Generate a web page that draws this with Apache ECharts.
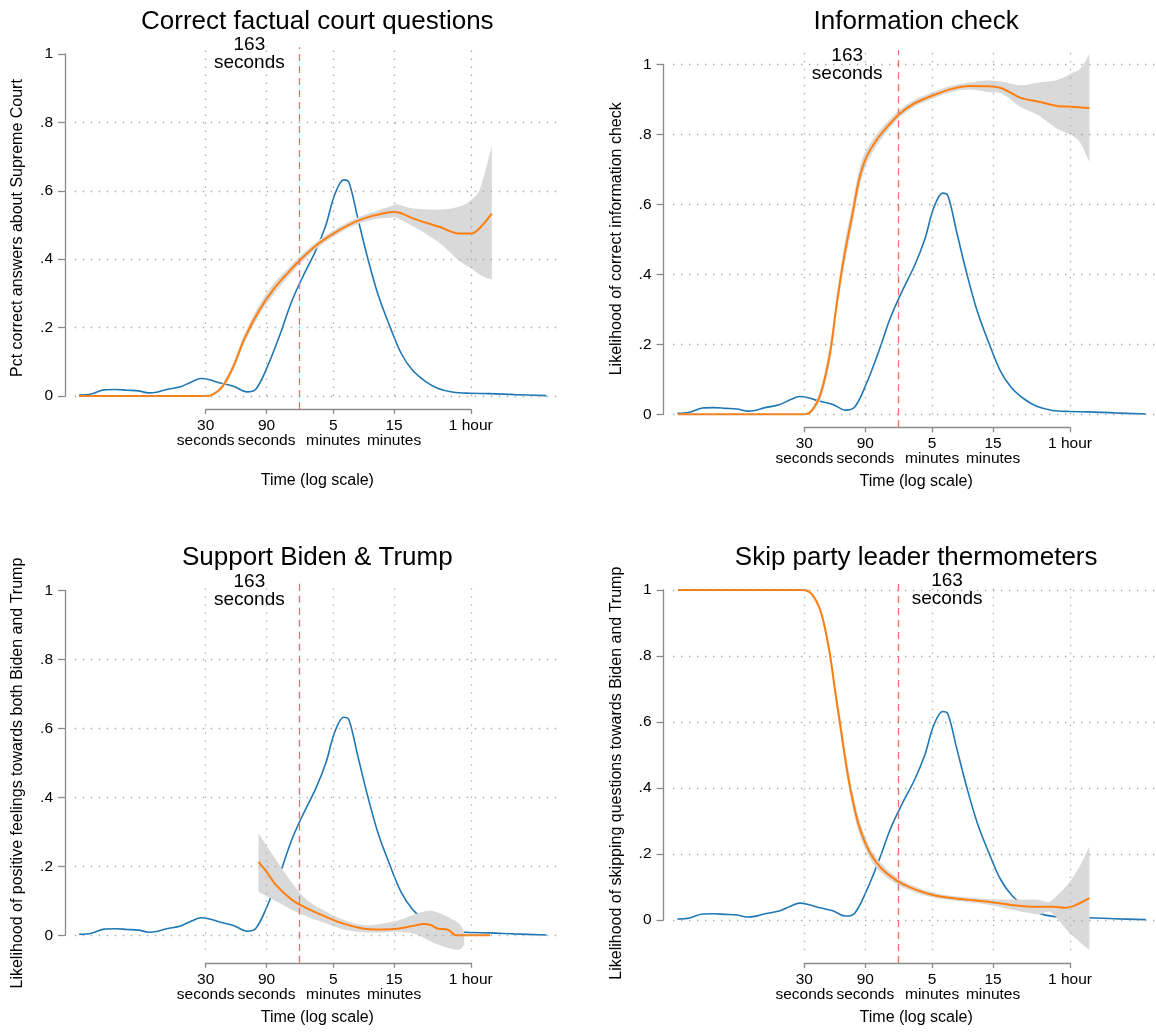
<!DOCTYPE html>
<html><head><meta charset="utf-8">
<script src="https://cdn.jsdelivr.net/npm/echarts@6/dist/echarts.min.js"></script>
<style>html,body{margin:0;padding:0;background:#fff}#c{width:1156px;height:1032px}</style>
</head><body><div id="c"></div>
<script>
// ---------------- DATA (time is stored as log10 of seconds) ----------------
const tickSeconds = [30, 90, 300, 900, 3600];
const tickLabels = ['30\nseconds', '90\nseconds', '5\nminutes', '15\nminutes', '1 hour'];
const yTickValues = [0, 0.2, 0.4, 0.6, 0.8, 1];
const cutoffSeconds = 163;
const noteSeconds = [66, 65, 66, 393];
const panelTitles = ['Correct factual court questions', 'Information check', 'Support Biden & Trump', 'Skip party leader thermometers'];
const yTitles = ['Pct correct answers about Supreme Court', 'Likelihood of correct information check',
  'Likelihood of positive feelings towards both Biden and Trump', 'Likelihood of skipping questions towards Biden and Trump'];
const xTitle = 'Time (log scale)';

// Density of completion time (blue), same in every panel
const densLogT = [0.484,0.58,0.68,0.77,0.86,0.95,1.03,1.09,1.17,1.28,1.37,1.44,1.50,1.60,1.70,1.80,1.87,1.96,2.06,2.15,2.24,2.34,2.42,2.49,2.56,2.60,2.67,2.75,2.83,2.92,3.01,3.10,3.20,3.30,3.42,3.55,3.70,3.90,4.15];
const densY = [0.003,0.006,0.018,0.019,0.017,0.015,0.009,0.011,0.019,0.027,0.042,0.051,0.048,0.037,0.028,0.012,0.020,0.085,0.180,0.275,0.350,0.425,0.500,0.590,0.632,0.625,0.520,0.400,0.295,0.205,0.125,0.075,0.043,0.022,0.011,0.008,0.007,0.004,0.001];

// Panel 1: Correct factual court questions
const courtLogT = [0.484,1.477,1.535,1.607,1.694,1.781,1.897,2.013,2.129,2.244,2.36,2.476,2.592,2.708,2.824,2.939,2.983,3.113,3.316,3.46,3.562,3.634,3.721];
const courtFit = [0,0,0.005,0.027,0.086,0.168,0.251,0.314,0.363,0.407,0.445,0.474,0.499,0.518,0.530,0.538,0.537,0.518,0.494,0.475,0.475,0.494,0.533];
const courtCiLogT = [1.477,1.535,1.607,1.694,1.781,1.897,2.013,2.129,2.244,2.36,2.476,2.592,2.708,2.824,2.939,2.983,3.113,3.316,3.46,3.562,3.634,3.721];
const courtCiLo = [0,0.003,0.020,0.075,0.155,0.236,0.298,0.350,0.396,0.435,0.465,0.490,0.508,0.518,0.522,0.520,0.494,0.446,0.397,0.373,0.353,0.340];
const courtCiHi = [0,0.007,0.034,0.097,0.181,0.266,0.330,0.376,0.418,0.455,0.483,0.508,0.528,0.542,0.556,0.560,0.548,0.545,0.553,0.574,0.611,0.732];

// Panel 2: Information check
const infoLogT = [0.488,1.471,1.534,1.606,1.678,1.735,1.793,1.85,1.907,1.965,2.051,2.137,2.223,2.337,2.481,2.624,2.768,2.911,3.026,3.169,3.312,3.456,3.571,3.708];
const infoFit = [0,0,0.010,0.060,0.174,0.326,0.459,0.564,0.672,0.736,0.788,0.826,0.859,0.888,0.911,0.929,0.938,0.937,0.931,0.904,0.893,0.881,0.879,0.875];
const infoCiLogT = [1.471,1.534,1.606,1.678,1.735,1.793,1.85,1.907,1.965,2.051,2.137,2.223,2.337,2.481,2.624,2.768,2.911,3.026,3.169,3.312,3.456,3.571,3.64,3.708];
const infoCiLo = [0,0.005,0.045,0.150,0.300,0.430,0.535,0.645,0.715,0.772,0.813,0.848,0.878,0.902,0.920,0.928,0.921,0.916,0.878,0.854,0.816,0.797,0.774,0.721];
const infoCiHi = [0,0.015,0.075,0.198,0.352,0.488,0.593,0.700,0.757,0.804,0.839,0.870,0.898,0.920,0.938,0.948,0.954,0.950,0.940,0.948,0.955,0.975,0.988,1.030];

// Panel 3: Support Biden & Trump
const supportLogT = [1.891,1.955,2.027,2.157,2.273,2.418,2.563,2.708,2.853,2.997,3.113,3.186,3.243,3.301,3.374,3.44,3.707];
const supportFit = [0.213,0.184,0.146,0.102,0.078,0.054,0.033,0.020,0.017,0.020,0.028,0.033,0.030,0.019,0.017,0,0];
const supportCiLogT = [1.891,2.013,2.157,2.273,2.418,2.563,2.708,2.853,2.997,3.142,3.243,3.345,3.461,3.504];
const supportCiLo = [0.126,0.102,0.073,0.054,0.035,0.017,0.009,0.008,0.010,0.001,-0.018,-0.033,-0.042,-0.028];
const supportCiHi = [0.295,0.228,0.151,0.102,0.069,0.044,0.030,0.033,0.044,0.064,0.071,0.059,0.035,0.011];

// Panel 4: Skip party leader thermometers
const skipLogT = [0.488,1.463,1.534,1.606,1.672,1.721,1.764,1.807,1.85,1.907,1.993,2.079,2.194,2.309,2.452,2.596,2.768,2.94,3.112,3.284,3.427,3.513,3.6,3.708];
const skipFit = [1,1,0.988,0.934,0.818,0.687,0.576,0.465,0.374,0.283,0.202,0.157,0.121,0.098,0.079,0.068,0.061,0.054,0.045,0.040,0.040,0.037,0.045,0.066];
const skipCiLogT = [1.534,1.606,1.672,1.721,1.764,1.807,1.85,1.907,1.993,2.079,2.194,2.309,2.452,2.596,2.768,2.94,3.112,3.284,3.341,3.398,3.456,3.542,3.628,3.708];
const skipCiLo = [0.984,0.925,0.800,0.665,0.550,0.440,0.350,0.262,0.185,0.143,0.110,0.089,0.071,0.061,0.054,0.045,0.030,0.018,0.020,0.025,0.005,-0.035,-0.065,-0.091];
const skipCiHi = [0.992,0.943,0.836,0.709,0.602,0.490,0.398,0.304,0.219,0.171,0.132,0.107,0.087,0.075,0.068,0.063,0.062,0.062,0.058,0.055,0.075,0.110,0.160,0.222];

// ---------------- LAYOUT / STYLE ----------------
const FONT = '"Liberation Sans", Arial, Helvetica, sans-serif';
const XMIN = 0.45, XMAX = 4.255;
const LOG = Math.log10;
const layout = [
  {x30: 205.7, ppd: 127.5, y0: 396,   ppu: 342, ymax: 1.02, yAxisX: 65,    titleY: 22,  xNameGap: 64, gridAtOne: false},
  {x30: 804.3, ppd: 127.8, y0: 414.3, ppu: 350, ymax: 1.04, yAxisX: 663.5, titleY: 22,  xNameGap: 46, gridAtOne: true},
  {x30: 205.7, ppd: 127.5, y0: 935.3, ppu: 345, ymax: 1.02, yAxisX: 65,    titleY: 558, xNameGap: 47, gridAtOne: false},
  {x30: 804.3, ppd: 127.8, y0: 920,   ppu: 330, ymax: 1.02, yAxisX: 663.5, titleY: 558, xNameGap: 47, gridAtOne: true}
];
const panels = [
  {fitT: courtLogT, fit: courtFit, ciT: courtCiLogT, lo: courtCiLo, hi: courtCiHi},
  {fitT: infoLogT, fit: infoFit, ciT: infoCiLogT, lo: infoCiLo, hi: infoCiHi},
  {fitT: supportLogT, fit: supportFit, ciT: supportCiLogT, lo: supportCiLo, hi: supportCiHi},
  {fitT: skipLogT, fit: skipFit, ciT: skipCiLogT, lo: skipCiLo, hi: skipCiHi}
];
const AXIS_COLOR = '#8a8a8a';
const GRID_COLOR = '#a8a8a8';
const BLUE = '#1f77b4', ORANGE = '#ff7f0e', BAND = '#d9d9d9', RED = '#f26d6d';
const AXIS_GAP = 13;

// Catmull-Rom spline through pixel points -> SVG path segments
function splinePath(pts, moveFirst) {
  let d = (moveFirst ? 'M' : 'L') + pts[0][0] + ' ' + pts[0][1];
  const t = 1 / 3;
  for (let k = 0; k < pts.length - 1; k++) {
    const p0 = pts[Math.max(0, k - 1)], p1 = pts[k], p2 = pts[k + 1], p3 = pts[Math.min(pts.length - 1, k + 2)];
    const c1 = [p1[0] + (p2[0] - p0[0]) * t / 2, p1[1] + (p2[1] - p0[1]) * t / 2];
    const c2 = [p2[0] - (p3[0] - p1[0]) * t / 2, p2[1] - (p3[1] - p1[1]) * t / 2];
    d += 'C' + c1[0] + ' ' + c1[1] + ' ' + c2[0] + ' ' + c2[1] + ' ' + p2[0] + ' ' + p2[1];
  }
  return d;
}

const grids = [], xAxes = [], yAxes = [], series = [], graphics = [];
const tickLogs = tickSeconds.map(LOG);
const l30 = LOG(tickSeconds[0]), lEnd = LOG(tickSeconds[tickSeconds.length - 1]);
const textBase = {color: '#000', fontFamily: FONT, fontSize: 15.5};
const nameBase = {color: '#000', fontFamily: FONT, fontSize: 16};

panels.forEach((p, i) => {
  const L = layout[i];
  const dmin = Math.min(0, ...p.lo);
  const axisY = L.y0 - dmin * L.ppu + AXIS_GAP;
  const aLeft = L.x30 + (XMIN - l30) * L.ppd;
  const aWidth = (XMAX - XMIN) * L.ppd;
  const aTop = L.y0 - L.ymax * L.ppu;
  const gA = 2 * i, gB = 2 * i + 1;
  grids.push({left: aLeft, top: aTop, width: aWidth, height: axisY - aTop, outerBoundsMode: 'none', containLabel: false});
  grids.push({left: L.x30, top: L.y0 - L.ppu, width: (lEnd - l30) * L.ppd, height: L.ppu, outerBoundsMode: 'none', containLabel: false});

  xAxes.push({gridIndex: gA, type: 'value', min: XMIN, max: XMAX,
    axisLine: {show: false, onZero: false}, axisTick: {show: false}, axisLabel: {show: false}, splitLine: {show: false},
    name: xTitle, nameLocation: 'middle', nameGap: L.xNameGap, nameMoveOverlap: false, nameTextStyle: nameBase});
  yAxes.push({gridIndex: gA, type: 'value', min: dmin - AXIS_GAP / L.ppu, max: L.ymax, offset: aLeft - L.yAxisX,
    axisLine: {show: false, onZero: false}, axisTick: {show: false}, axisLabel: {show: false}, splitLine: {show: false},
    name: yTitles[i], nameLocation: 'middle', nameGap: 39, nameMoveOverlap: false, nameTextStyle: nameBase});
  xAxes.push({gridIndex: gB, type: 'value', min: l30, max: lEnd, offset: axisY - L.y0,
    axisLine: {show: true, onZero: false, lineStyle: {color: AXIS_COLOR, width: 1.3}},
    axisTick: {show: true, length: 5, customValues: tickLogs, lineStyle: {color: AXIS_COLOR, width: 1.3}},
    axisLabel: {show: true, customValues: tickLogs, margin: 9, lineHeight: 15, ...textBase,
      formatter: v => { let k = 0; tickLogs.forEach((t, j) => { if (Math.abs(t - v) < Math.abs(tickLogs[k] - v)) k = j; }); return tickLabels[k]; }},
    splitLine: {show: false}});
  yAxes.push({gridIndex: gB, type: 'value', min: 0, max: 1, interval: 0.2, offset: L.x30 - L.yAxisX,
    axisLine: {show: true, onZero: false, lineStyle: {color: AXIS_COLOR, width: 1.3}},
    axisTick: {show: true, length: 7, lineStyle: {color: AXIS_COLOR, width: 1.3}},
    axisLabel: {show: true, margin: 12, ...textBase,
      formatter: v => v === 0 ? '0' : (Math.abs(v - 1) < 1e-9 ? '1' : '.' + Math.round(v * 10))},
    splitLine: {show: false}});

  const hLines = yTickValues.filter(v => v < 1 || L.gridAtOne);
  series.push({type: 'line', xAxisIndex: gA, yAxisIndex: gA, data: [], z: 1, silent: true,
    markLine: {silent: true, symbol: ['none', 'none'], label: {show: false}, animation: false, emphasis: {disabled: true},
      lineStyle: {color: GRID_COLOR, type: [1.4, 6.6], width: 1.3},
      data: [...hLines.map(v => ({yAxis: v})),
        ...tickLogs.map(t => [{coord: [t, dmin]}, {coord: [t, L.ymax]}])]}});
  series.push({type: 'line', xAxisIndex: gA, yAxisIndex: gA, z: 2, clip: false, symbol: 'none', smooth: 0.35,
    lineStyle: {color: BLUE, width: 1.6}, data: densLogT.map((t, k) => [t, densY[k]])});
  const ciRows = p.ciT.map((t, k) => [t, p.lo[k], p.hi[k]]);
  series.push({type: 'custom', xAxisIndex: gA, yAxisIndex: gA, z: 3, clip: false, silent: true,
    encode: {x: 0, y: [1, 2]}, data: ciRows,
    renderItem: (params, api) => {
      if (params.dataIndex !== 0) return null;
      const up = ciRows.map(r => api.coord([r[0], r[2]]));
      const dn = ciRows.map(r => api.coord([r[0], r[1]])).reverse();
      const d = splinePath(up, true) + splinePath(dn, false) + 'Z';
      return {type: 'path', shape: {pathData: d}, style: {fill: BAND, stroke: null}};
    }});
  series.push({type: 'line', xAxisIndex: gA, yAxisIndex: gA, z: 4, clip: false, symbol: 'none', smooth: 0.3,
    lineStyle: {color: ORANGE, width: 2}, data: p.fitT.map((t, k) => [t, p.fit[k]])});
  series.push({type: 'line', xAxisIndex: gA, yAxisIndex: gA, data: [], z: 5, silent: true,
    markLine: {silent: true, symbol: ['none', 'none'], label: {show: false}, animation: false, emphasis: {disabled: true},
      lineStyle: {color: RED, type: [7, 5], width: 1.3},
      data: [{xAxis: LOG(cutoffSeconds)}]}});
  series.push({type: 'custom', xAxisIndex: gA, yAxisIndex: gA, z: 6, clip: false, silent: true,
    data: [[LOG(noteSeconds[i]), 1]],
    renderItem: (params, api) => {
      const c = api.coord([api.value(0), api.value(1)]);
      return {type: 'text', x: c[0], y: c[1],
        style: {text: cutoffSeconds + '\nseconds', fill: '#000', fontSize: 19, fontFamily: FONT, lineHeight: 18,
          align: 'center', verticalAlign: 'middle'}};
    }});

  graphics.push({type: 'text', x: aLeft + aWidth / 2, y: L.titleY, silent: true,
    style: {text: panelTitles[i], fill: '#000', fontSize: 26, fontFamily: FONT,
      align: 'center', verticalAlign: 'middle', textAlign: 'center', textVerticalAlign: 'middle'}});
});

const chart = echarts.init(document.getElementById('c'), null, {renderer: 'canvas', width: 1156, height: 1032});
chart.setOption({
  backgroundColor: '#fff',
  animation: false,
  textStyle: {fontFamily: FONT},
  grid: grids, xAxis: xAxes, yAxis: yAxes, series: series, graphic: graphics
});
</script></body></html>
